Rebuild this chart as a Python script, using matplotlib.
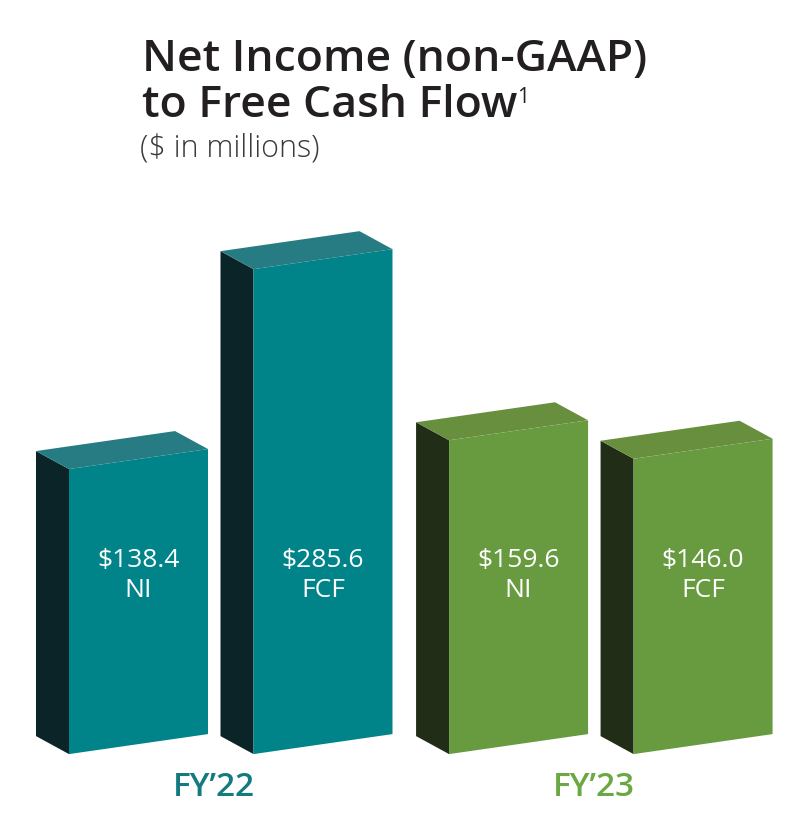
import matplotlib.pyplot as plt
from matplotlib.patches import Polygon
from matplotlib.transforms import blended_transform_factory

# --- data ---
groups = ["FY\u201922", "FY\u201923"]
metrics = ["NI", "FCF"]
fy22_values = [138.4, 285.6]
fy23_values = [159.6, 146.0]
group_values = [fy22_values, fy23_values]

# --- style ---
plt.rcParams['font.family'] = ['Open Sans', 'DejaVu Sans']
front_cols = ["#00848a", "#689b40"]
top_cols = ["#267c82", "#688f3e"]
side_cols = ["#0b2427", "#222d18"]
label_cols = ["#137a80", "#6aa843"]

W, H = 810, 834
PX_X = 184.5          # pixels per category step
PX_Y = 1.358          # pixels per $m
BASE = -71.5          # where the boxes start (chart is not to scale)
GROUP_STEP = 2.06
BAR_W = 139 / PX_X
DX = -33 / PX_X       # depth of box, to the left
DZ = 18 / PX_Y        # depth of box, upwards
TILT = 20 / PX_Y      # front face rises to the right

fig = plt.figure(figsize=(W / 100, H / 100), dpi=100)
ax = fig.add_axes([0, 0, 1, 1])
ax.set_xlim(-138.5 / PX_X, (W - 138.5) / PX_X)
ax.set_ylim(-(H - 657) / PX_Y, 657 / PX_Y)
ax.axis('off')
trans = blended_transform_factory(ax.transData, ax.transAxes)

for g, vals in enumerate(group_values):
    positions = []
    for j, v in enumerate(vals):
        x = g * GROUP_STEP + j
        positions.append(x)
        xl, xr = x - BAR_W / 2, x + BAR_W / 2
        side = [(xl, BASE), (xl, v), (xl + DX, v + DZ), (xl + DX, BASE + DZ)]
        top = [(xl, v), (xr, v + TILT), (xr + DX, v + TILT + DZ), (xl + DX, v + DZ)]
        front = [(xl, BASE), (xr, BASE + TILT), (xr, v + TILT), (xl, v)]
        ax.add_patch(Polygon(side, closed=True, fc=side_cols[g], ec='none'))
        ax.add_patch(Polygon(top, closed=True, fc=top_cols[g], ec='none'))
        ax.add_patch(Polygon(front, closed=True, fc=front_cols[g], ec='none'))
        ax.text(x, 1 - 567 / H, f"${v:.1f}", transform=trans, ha='center', va='baseline',
                color='white', fontsize=19)
        ax.text(x, 1 - 597 / H, metrics[j], transform=trans, ha='center', va='baseline',
                color='white', fontsize=19)
    gx = sum(positions) / len(positions) + DX / 2
    ax.text(gx, 1 - 796 / H, groups[g], transform=trans, ha='center', va='baseline',
            color=label_cols[g], fontsize=24, fontweight='semibold')

# --- titles ---
fig.text(142 / W, 1 - 71 / H, "Net Income (non-GAAP)", fontsize=32, fontweight='semibold',
         color='#231f20', va='baseline')
line2 = fig.text(142 / W, 1 - 117 / H, "to Free Cash Flow", fontsize=32, fontweight='semibold',
                 color='#231f20', va='baseline')
ax.annotate("1", xy=(1.0, 0.92), xycoords=line2, xytext=(0, 0), textcoords='offset points',
            ha='left', va='top', fontsize=15, color='#231f20')
fig.text(140 / W, 1 - 157 / H, "($ in millions)", fontsize=22, fontweight='light',
         color='#3a3a3a', va='baseline')

fig.savefig('out.png', dpi=100, facecolor='white')
